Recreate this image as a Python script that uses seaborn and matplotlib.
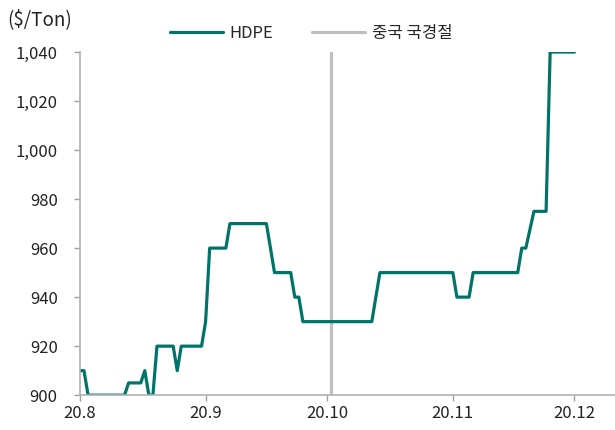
import seaborn as sns
import pandas as pd
import matplotlib.pyplot as plt

# 가격 변동 지점 (일자, $/Ton)
dates = ['2020-08-01', '2020-08-02', '2020-08-03', '2020-08-12', '2020-08-13',
         '2020-08-16', '2020-08-17', '2020-08-18', '2020-08-19', '2020-08-20',
         '2020-08-24', '2020-08-25', '2020-08-26', '2020-08-31', '2020-09-01',
         '2020-09-02', '2020-09-06', '2020-09-07', '2020-09-16', '2020-09-18',
         '2020-09-22', '2020-09-23', '2020-09-24', '2020-09-25', '2020-10-12',
         '2020-10-14', '2020-11-01', '2020-11-02', '2020-11-05', '2020-11-06',
         '2020-11-17', '2020-11-18', '2020-11-19', '2020-11-21', '2020-11-24',
         '2020-11-25', '2020-12-01']
hdpe = [910, 910, 900, 900, 905,
        905, 910, 900, 900, 920,
        920, 910, 920, 920, 930,
        960, 960, 970, 970, 950,
        950, 940, 940, 930, 930,
        950, 950, 940, 940, 950,
        950, 960, 960, 975, 975,
        1040, 1040]

holiday = '2020-10-02'
tick_dates = ['2020-08-01', '2020-09-01', '2020-10-01', '2020-11-01', '2020-12-01']
tick_labels = ['20.8', '20.9', '20.10', '20.11', '20.12']
y_ticks = [900, 920, 940, 960, 980, 1000, 1020, 1040]

df = pd.DataFrame({'date': pd.to_datetime(dates), 'HDPE': hdpe})

sns.set_style('ticks')
plt.rcParams['font.family'] = ['Noto Sans CJK KR', 'DejaVu Sans']

fig = plt.figure(figsize=(6.15, 4.3), dpi=100)
ax = fig.add_axes([0.130, 0.081, 0.870, 0.798])

ax.axvline(pd.Timestamp(holiday), color='#c0c0c0', lw=2.3, label='중국 국경절', zorder=1)
sns.lineplot(data=df, x='date', y='HDPE', ax=ax, color='#00746a', lw=2.3, label='HDPE', zorder=2)

ax.set_xlim(pd.Timestamp('2020-08-01'), pd.Timestamp('2020-12-11'))
ax.set_ylim(900, 1040)
ax.set_xticks(pd.to_datetime(tick_dates))
ax.set_xticklabels(tick_labels)
ax.set_yticks(y_ticks)
ax.set_yticklabels([f'{v:,}' for v in y_ticks])
ax.set_xlabel('')
ax.set_ylabel('')
ax.tick_params(labelsize=12, colors='#a0a0a0', labelcolor='#222222', length=4, width=1)
ax.tick_params(axis='y', pad=12)
ax.tick_params(axis='x', pad=3)

for s in ['top', 'right']:
    ax.spines[s].set_visible(False)
for s in ['left', 'bottom']:
    ax.spines[s].set_color('#b0b0b0')
    ax.spines[s].set_linewidth(1.2)

h, l = ax.get_legend_handles_labels()
ax.legend(h[::-1], l[::-1], loc='center', bbox_to_anchor=(0.506, 0.922), bbox_transform=fig.transFigure,
          ncol=2, frameon=False, fontsize=12, handlelength=3.2, handletextpad=0.4, columnspacing=2.3)

fig.text(0.012, 0.955, '($/Ton)', fontsize=13.5, ha='left', va='center', color='#222222')

plt.savefig('out.png', dpi=100)
